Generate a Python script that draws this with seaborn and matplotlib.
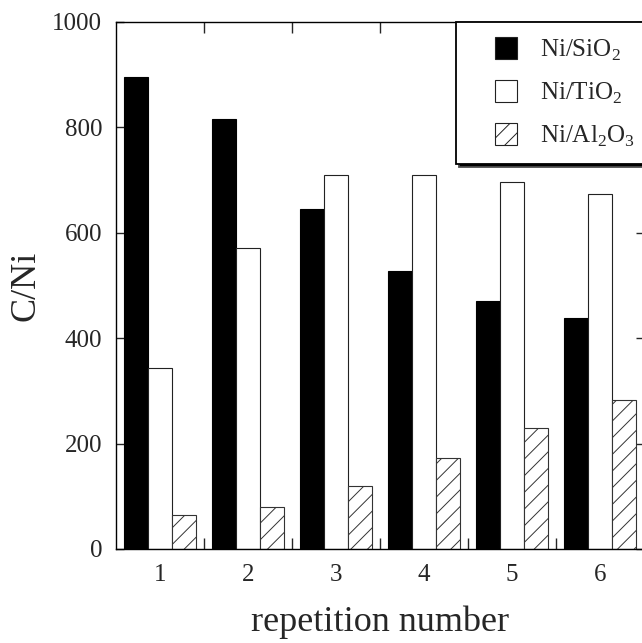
import matplotlib
matplotlib.use("Agg")
import matplotlib.pyplot as plt
from matplotlib.patches import Patch, Rectangle
from matplotlib.legend_handler import HandlerPatch
import seaborn as sns
import pandas as pd
import numpy as np

# values
repetitions = ["1", "2", "3", "4", "5", "6"]
catalysts = ["Ni/SiO2", "Ni/TiO2", "Ni/Al2O3"]
ni_sio2 = [896, 816, 645, 527, 471, 438]
ni_tio2 = [344, 572, 709, 709, 696, 673]
ni_al2o3 = [65, 79, 119, 173, 230, 283]

legend_labels = [r"Ni/SiO$_\mathregular{2}$",
                 r"Ni/TiO$_\mathregular{2}$",
                 r"Ni/Al$_\mathregular{2}$O$_\mathregular{3}$"]

df = pd.DataFrame({
    "repetition": repetitions * 3,
    "catalyst": np.repeat(catalysts, len(repetitions)),
    "C/Ni": ni_sio2 + ni_tio2 + ni_al2o3,
})

sns.set_style("ticks")
plt.rcParams["font.family"] = ["Liberation Serif", "DejaVu Serif"]
plt.rcParams["mathtext.fontset"] = "custom"
plt.rcParams["mathtext.rm"] = "Liberation Serif"
plt.rcParams["hatch.linewidth"] = 0.7
plt.rcParams["hatch.color"] = "#333333"

fig = plt.figure(figsize=(6.42, 6.43), dpi=100)
ax = fig.add_axes([0.1807, 0.1462, 0.8223, 0.8196])

sns.barplot(data=df, x="repetition", y="C/Ni", hue="catalyst",
            hue_order=catalysts, width=0.82, gap=0, ax=ax,
            legend=False, saturation=1)

styles = [
    dict(facecolor="black", edgecolor="black", hatch=None),
    dict(facecolor="white", edgecolor="#222222", hatch=None),
    dict(facecolor="white", edgecolor="#333333", hatch="//"),
]
for cont, st in zip(ax.containers, styles):
    for bar in cont:
        bar.set_facecolor(st["facecolor"])
        bar.set_edgecolor(st["edgecolor"])
        bar.set_linewidth(0.8)
        if st["hatch"]:
            bar.set_hatch(st["hatch"])

ax.set_xlim(-0.5, 5.5)
ax.set_ylim(0, 1000)
ax.set_yticks([0, 200, 400, 600, 800, 1000])
ax.set_xticks(range(len(repetitions)))
ax.set_xticks(np.arange(0.5, len(repetitions) - 1, 1.0), minor=True)

for s in ax.spines.values():
    s.set_linewidth(1.0)
    s.set_color("black")

ax.tick_params(axis="x", which="major", length=0, pad=11, labelsize=18)
ax.tick_params(axis="x", which="minor", direction="in", length=8,
               width=1.0, top=True, bottom=True)
ax.tick_params(axis="y", which="major", direction="in", length=6,
               width=1.0, left=True, right=True, pad=10, labelsize=18)

ax.set_xlabel("repetition number", fontsize=26, labelpad=14)
ax.set_ylabel("C/Ni", fontsize=26, labelpad=7)


def square_patch(legend, orig_handle, xdescent, ydescent, width, height, fontsize):
    sq = height
    return Rectangle((-xdescent + width - sq, -ydescent + (height - sq) / 2), sq, sq)


handles = [Patch(facecolor=st["facecolor"], edgecolor="#222222",
                 hatch=st["hatch"], linewidth=0.8) for st in styles]
leg = ax.legend(handles, legend_labels, loc="upper right",
                bbox_to_anchor=(1.011, 1.0), borderaxespad=0,
                fontsize=18, handlelength=1.85, handleheight=1.0,
                handletextpad=0.9, labelspacing=0.68, borderpad=0.6,
                fancybox=False, framealpha=1, edgecolor="black",
                shadow={"facecolor": "black", "alpha": 1},
                handler_map={Patch: HandlerPatch(patch_func=square_patch)})
leg.get_frame().set_linewidth(1.3)

fig.savefig("out.png", dpi=100)
